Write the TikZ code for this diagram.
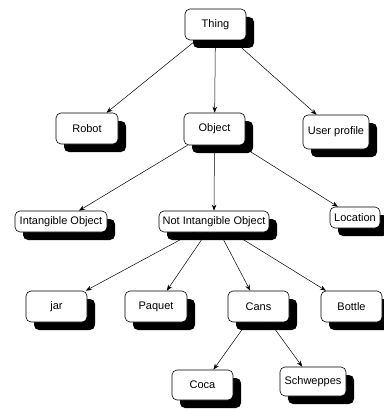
\documentclass[tikz,border=0pt]{standalone}
\usepackage{fontspec}
\setmainfont{Liberation Sans}
\usetikzlibrary{shadows,arrows.meta}
\begin{document}
\begin{tikzpicture}[x=1pt,y=-1pt,
  cbox/.style={draw=black,line width=0.6pt,fill=white,rounded corners=5pt,
    inner sep=0pt,font=\fontsize{11}{13}\selectfont,
    drop shadow={shadow xshift=8pt,shadow yshift=-8pt,opacity=1,fill=black}},
  link/.style={draw=black,line width=0.5pt,-{Stealth[length=6pt,width=4.5pt]}}]
\useasboundingbox (0,0) rectangle (383,409);
\node[cbox,minimum width=61pt,minimum height=31pt] (thing) at (215.5,24.5) {Thing};
\node[cbox,minimum width=62pt,minimum height=31pt] (robot) at (87,128.5) {Robot};
\node[cbox,minimum width=61pt,minimum height=32pt] (object) at (214.5,129) {Object};
\node[cbox,minimum width=66pt,minimum height=34pt] (user) at (336,132) {User profile};
\node[cbox,minimum width=92pt,minimum height=21pt] (intang) at (61,221.5) {Intangible Object};
\node[cbox,minimum width=110pt,minimum height=21pt] (notint) at (214,221.5) {Not Intangible Object};
\node[cbox,minimum width=50pt,minimum height=21pt] (loc) at (355,217.5) {Location};
\node[cbox,minimum width=61pt,minimum height=31pt] (jar) at (56.5,306.5) {jar};
\node[cbox,minimum width=62pt,minimum height=31pt] (paquet) at (156,306.5) {Paquet};
\node[cbox,minimum width=61pt,minimum height=31pt] (cans) at (258.5,306.5) {Cans};
\node[cbox,minimum width=61pt,minimum height=31pt] (bottle) at (351.5,306.5) {Bottle};
\node[cbox,minimum width=61pt,minimum height=30pt] (coca) at (202.5,385) {Coca};
\node[cbox,minimum width=66pt,minimum height=29pt] (schw) at (313,381.5) {Schweppes};
\draw[link] (thing) -- (robot);
\draw[link] (thing) -- (object);
\draw[link] (thing) -- (user);
\draw[link] (object) -- (intang);
\draw[link] (object) -- (notint);
\draw[link] (object) -- (loc);
\draw[link] (notint) -- (jar);
\draw[link] (notint) -- (paquet);
\draw[link] (notint) -- (cans);
\draw[link] (notint) -- (bottle);
\draw[link] (cans) -- (coca);
\draw[link] (cans) -- (schw);
\end{tikzpicture}
\end{document}
